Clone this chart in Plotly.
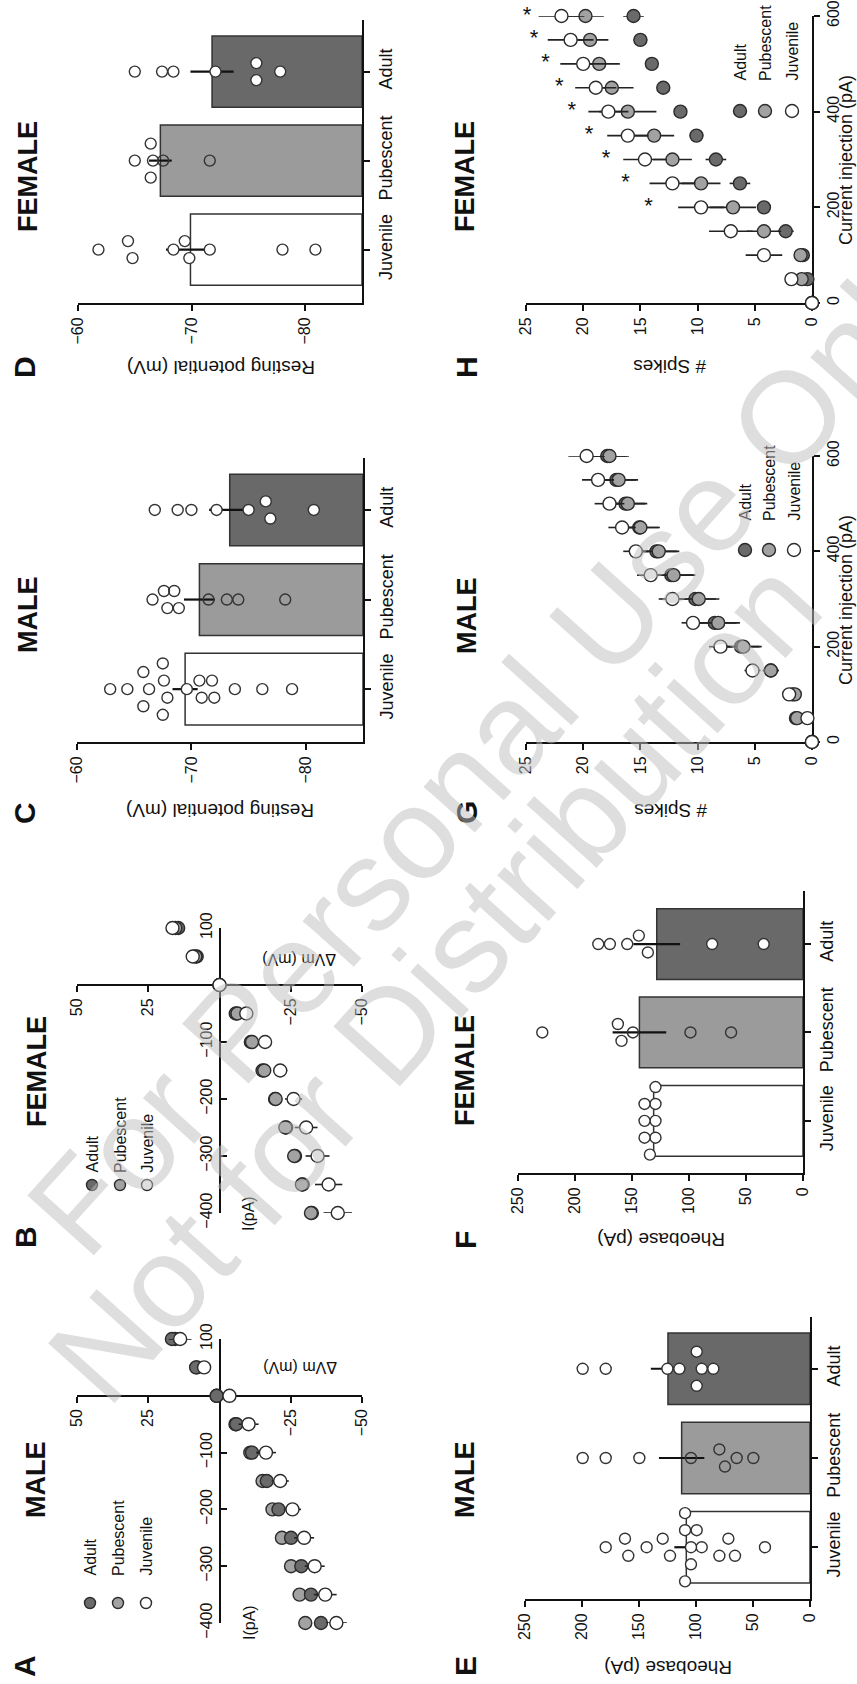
import numpy as np
import plotly.graph_objects as go

W, H = 857, 1684
FONT = "Liberation Sans, Arial, Helvetica, sans-serif"

GROUPS = ["Juvenile", "Pubescent", "Adult"]

# ---------------- IV curves (A male, B female) ----------------
IV_CURRENT = [-400, -350, -300, -250, -200, -150, -100, -50, 0, 50, 100]
A_ADULT = [-35.6, -32.1, -28.7, -25.1, -20.7, -16.6, -11.4, -5.9, 1.0, 8.2, 16.7]
A_PUB = [-30.1, -28.1, -25.1, -21.9, -18.6, -15.1, -10.8, -5.6, 1.0, 8.0, 15.6]
A_JUV = [-41.0, -37.1, -33.4, -29.7, -25.6, -21.3, -16.3, -10.2, -3.5, 5.4, 13.8]
A_ADULT_SEM = [1.5, 1.5, 1.5, 1.4, 1.3, 1.2, 1.0, 0.8, 0.3, 0.8, 1.2]
A_PUB_SEM = [1.5, 1.5, 1.4, 1.3, 1.2, 1.1, 1.0, 0.8, 0.3, 0.8, 1.2]
A_JUV_SEM = [3.7, 4.0, 3.5, 3.5, 3.0, 3.0, 3.5, 3.5, 0.5, 1.0, 4.0]

B_ADULT = [-32.4, -29.2, -26.5, -23.4, -19.5, -15.1, -11.0, -5.7, 0.0, 8.0, 14.5]
B_PUB = [-32.1, -28.9, -26.2, -23.1, -19.7, -15.7, -11.4, -6.3, 0.0, 8.5, 15.5]
B_JUV = [-41.5, -38.3, -34.4, -30.4, -26.0, -21.3, -16.0, -9.4, 0.0, 9.4, 16.5]
B_ADULT_SEM = [1.2, 1.2, 1.1, 1.0, 1.0, 0.9, 0.8, 0.6, 0.0, 0.5, 0.5]
B_PUB_SEM = [1.5, 1.4, 1.3, 1.2, 1.1, 1.0, 0.9, 0.7, 0.0, 0.5, 0.5]
B_JUV_SEM = [5.0, 4.8, 4.2, 4.0, 3.0, 2.5, 1.5, 0.8, 0.0, 0.5, 0.5]

# ---------------- Resting potential (C male, D female) ----------------
C_JUV = [-62.9, -64.4, -65.8, -65.8, -66.3, -67.5, -67.5, -67.6, -67.9, -69.6,
         -70.7, -70.9, -71.8, -72.0, -73.8, -76.2, -78.8]
C_PUB = [-66.6, -67.6, -67.9, -68.5, -68.9, -71.5, -73.1, -74.1, -78.2]
C_ADU = [-66.8, -68.8, -70.0, -72.2, -75.0, -76.5, -76.9, -80.7]
C_MEAN = [-69.45, -70.7, -73.35]
C_SEM = [1.1, 1.35, 1.8]

D_JUV = [-61.8, -64.4, -64.8, -68.4, -69.4, -69.8, -71.6, -78.0, -80.9]
D_PUB = [-65.0, -66.4, -66.4, -66.6, -67.5, -71.6]
D_ADU = [-65.0, -67.4, -68.4, -72.1, -75.7, -75.7, -77.8]
D_MEAN = [-69.9, -67.25, -71.8]
D_SEM = [2.15, 1.0, 1.9]

# ---------------- Rheobase (E male, F female) ----------------
E_JUV = [39.5, 65.8, 71.6, 79.5, 95.0, 99.4, 104.4, 104.4, 109.6, 109.6, 109.6,
         122.8, 129.2, 143.3, 159.4, 162.3, 179.2]
E_PUB = [49.7, 64.3, 74.6, 79.5, 104.4, 149.7, 179.2, 199.4]
E_ADU = [84.8, 95.0, 99.4, 99.4, 114.6, 125.1, 179.2, 199.4]
E_MEAN = [108.5, 112.6, 124.6]
E_SEM = [10.5, 19.9, 15.0]

F_JUV = [129.4, 129.4, 129.4, 129.4, 134.3, 139.0, 139.0, 139.0]
F_PUB = [63.1, 98.7, 149.2, 159.2, 162.4, 228.7]
F_ADU = [34.5, 79.7, 136.1, 144.0, 154.2, 169.4, 179.6]
F_MEAN = [131.0, 143.5, 128.3]
F_SEM = [2.0, 23.5, 20.5]

# ---------------- Spikes vs current (G male, H female) ----------------
STEP_CURRENT = [0, 50, 100, 150, 200, 250, 300, 350, 400, 450, 500, 550, 600]
G_ADULT = [0, 1.4, 1.7, 3.6, 6.2, 8.5, 10.2, 12.3, 13.6, 15.1, 16.3, 17.1, 17.9]
G_PUB = [0, 1.3, 1.5, 3.6, 6.0, 8.2, 9.9, 12.1, 13.4, 15.0, 16.1, 16.9, 17.7]
G_JUV = [0, 0.4, 2.0, 5.2, 8.0, 10.4, 12.2, 14.1, 15.4, 16.6, 17.7, 18.7, 19.7]
G_ADULT_SEM = [0, 0.3, 0.6, 0.7, 1.6, 1.9, 1.8, 1.9, 1.8, 1.7, 1.7, 1.7, 1.7]
G_PUB_SEM = [0, 0.3, 0.6, 0.7, 1.6, 1.9, 1.8, 1.9, 1.8, 1.7, 1.7, 1.7, 1.7]
G_JUV_SEM = [0, 0.3, 0.6, 0.7, 1.0, 1.0, 1.2, 1.2, 1.1, 1.2, 1.3, 1.4, 1.6]

H_ADULT = [0, 0.4, 0.8, 2.3, 4.2, 6.3, 8.4, 10.1, 11.5, 13.0, 14.0, 15.0, 15.6]
H_PUB = [0, 0.9, 1.0, 4.2, 6.9, 9.7, 12.2, 13.8, 16.1, 17.5, 18.6, 19.4, 19.8]
H_JUV = [0, 1.8, 4.2, 7.1, 9.7, 12.2, 14.6, 16.1, 17.8, 18.9, 20.0, 21.1, 21.9]
H_ADULT_SEM = [0, 0.2, 0.3, 0.7, 0.6, 0.9, 0.9, 0.6, 0.5, 0.5, 0.5, 0.6, 0.9]
H_PUB_SEM = [0, 0.3, 0.4, 1.5, 2.0, 1.7, 1.7, 1.75, 2.5, 1.9, 1.8, 1.6, 1.6]
H_JUV_SEM = [0, 0.5, 1.6, 1.9, 2.0, 2.0, 1.9, 1.8, 1.75, 1.8, 2.0, 2.0, 2.0]
H_STAR_CURRENT = [200, 250, 300, 350, 400, 450, 500, 550, 600]
H_STAR_POS = [14.3, 16.3, 18.0, 19.5, 21.0, 22.1, 23.3, 24.3, 24.9]

# ---------------- styles ----------------
COL_ADU = "#6a6a6a"
COL_PUB = "#a2a2a2"
COL_JUV = "#ffffff"
EDGE = "#2b2b2b"
BAR_COLORS = ["#ffffff", "#9b9b9b", "#696969"]


def fx(px):
    return px / W


def fy(py):
    return 1 - py / H


fig = go.Figure()
layout = dict(
    width=W, height=H, margin=dict(l=0, r=0, t=0, b=0),
    paper_bgcolor="white", plot_bgcolor="rgba(0,0,0,0)",
    showlegend=False, template="none",
    font=dict(family=FONT, color="#111"),
    annotations=[], shapes=[],
)

AX_COMMON = dict(showgrid=False, zeroline=False, showline=True, linecolor="#111",
                 linewidth=2, ticks="outside", ticklen=6, tickwidth=2, tickcolor="#111",
                 tickangle=-90, automargin=False, fixedrange=True, layer="below traces")


def ax_name(kind, n):
    return kind + ("axis" if n == 1 else "axis%d" % n)


def ref(kind, n):
    return kind if n == 1 else "%s%d" % (kind, n)


def add_ann(text, px, py, size, angle=-90, bold=False, xanchor="center",
            yanchor="middle", color="#111"):
    if bold:
        text = "<b>%s</b>" % text
    layout["annotations"].append(dict(
        text=text, x=fx(px), y=fy(py), xref="paper", yref="paper",
        showarrow=False, textangle=angle, xanchor=xanchor, yanchor=yanchor,
        font=dict(family=FONT, size=size, color=color)))


def swarm(vals, px_per_unit, cat_px=89.0, step=17.0, diam=10.0):
    v = np.asarray(vals, float) * px_per_unit
    order = list(np.argsort(v, kind="stable"))
    placed = []
    off = np.zeros(len(v))
    ks = [0, 1, -1, 2, -2, 3, -3, 4, -4, 5, -5]
    for i in order:
        o = 0.0
        for k in ks:
            o = k * step
            if all((v[i] - pv) ** 2 + (o - po) ** 2 >= diam ** 2 - 1e-9 for pv, po in placed):
                break
        placed.append((v[i], o))
        off[i] = o
    clusters, cur = [], [order[0]]
    for a, b in zip(order[:-1], order[1:]):
        if abs(v[b] - v[a]) < diam:
            cur.append(b)
        else:
            clusters.append(cur)
            cur = [b]
    clusters.append(cur)
    for c in clusters:
        off[c] -= (off[c].max() + off[c].min()) / 2
    return off / cat_px


def bar_panel(n, xpx, ypx, xr, yr, base, tickvals, groups_pts, means, sems, px_per_unit):
    layout[ax_name("x", n)] = dict(AX_COMMON, domain=[fx(xpx[0]), fx(xpx[1])], range=xr,
                                   anchor=ref("y", n), side="bottom", tickvals=tickvals,
                                   tickfont=dict(size=16, family=FONT, color="#111"))
    layout[ax_name("y", n)] = dict(AX_COMMON, domain=[fy(ypx[1]), fy(ypx[0])], range=yr,
                                   anchor=ref("x", n), side="right", tickvals=[0, 1, 2],
                                   ticktext=GROUPS,
                                   tickfont=dict(size=18, family=FONT, color="#111"))
    fig.add_trace(go.Bar(
        x=[m - base for m in means], y=[0, 1, 2], base=base, orientation="h", width=0.8,
        marker=dict(color=BAR_COLORS, line=dict(color="#333", width=1.5)),
        xaxis=ref("x", n), yaxis=ref("y", n), hoverinfo="skip"))
    fig.add_trace(go.Scatter(
        x=means, y=[0, 1, 2], mode="markers", marker=dict(size=1, color="rgba(0,0,0,0)"),
        error_x=dict(type="data", array=sems, color="#111", thickness=2.2, width=0),
        xaxis=ref("x", n), yaxis=ref("y", n), hoverinfo="skip", cliponaxis=False))
    fills = [COL_JUV, "rgba(0,0,0,0)", "#ffffff"]
    for gi, pts in enumerate(groups_pts):
        offs = swarm(pts, px_per_unit)
        fig.add_trace(go.Scatter(
            x=pts, y=[gi + o for o in offs], mode="markers",
            marker=dict(size=11, color=fills[gi], line=dict(color="#333", width=1.4)),
            xaxis=ref("x", n), yaxis=ref("y", n), hoverinfo="skip", cliponaxis=False))


def xy_series(n, xs, ys, sem, fill, size=13):
    fig.add_trace(go.Scatter(
        x=xs, y=ys, mode="markers",
        marker=dict(size=size, color=fill, line=dict(color=EDGE, width=1.4)),
        error_x=dict(type="data", array=sem, color="#222", thickness=1.6, width=0),
        xaxis=ref("x", n), yaxis=ref("y", n), hoverinfo="skip", cliponaxis=False))


def iv_panel(n, xpx, ypx, series):
    xr, yr = [50, -50], [-400, 100]
    xd = [fx(xpx[0]), fx(xpx[1])]
    yd = [fy(ypx[1]), fy(ypx[0])]
    ypos = yd[0] + (0 - yr[0]) / (yr[1] - yr[0]) * (yd[1] - yd[0])
    xpos = xd[0] + (0 - xr[0]) / (xr[1] - xr[0]) * (xd[1] - xd[0])
    layout[ax_name("x", n)] = dict(AX_COMMON, domain=xd, range=xr, anchor="free",
                                   position=ypos, side="bottom", tickvals=[50, 25, -25, -50],
                                   tickfont=dict(size=16, family=FONT, color="#111"))
    layout[ax_name("y", n)] = dict(AX_COMMON, domain=yd, range=yr, anchor="free",
                                   position=xpos, side="left", ticks="inside",
                                   tickvals=[-400, -300, -200, -100, 100],
                                   tickfont=dict(size=16, family=FONT, color="#111"))
    for xs, sem, fill in series:
        xy_series(n, xs, IV_CURRENT, sem, fill)


def spike_panel(n, xpx, ypx, series):
    layout[ax_name("x", n)] = dict(AX_COMMON, domain=[fx(xpx[0]), fx(xpx[1])], range=[25, 0],
                                   anchor=ref("y", n), side="bottom",
                                   tickvals=[0, 5, 10, 15, 20, 25],
                                   tickfont=dict(size=16, family=FONT, color="#111"))
    layout[ax_name("y", n)] = dict(AX_COMMON, domain=[fy(ypx[1]), fy(ypx[0])], range=[0, 600],
                                   anchor=ref("x", n), side="right",
                                   tickvals=[0, 200, 400, 600],
                                   tickfont=dict(size=16, family=FONT, color="#111"))
    for xs, sem, fill in series:
        xy_series(n, xs, STEP_CURRENT, sem, fill)


def legend(xs_px, y_px, text_bottom_px, r, size):
    for px, fill, lab in zip(xs_px, [COL_ADU, COL_PUB, COL_JUV], ["Adult", "Pubescent", "Juvenile"]):
        layout["shapes"].append(dict(
            type="circle", xref="paper", yref="paper", xsizemode="pixel", ysizemode="pixel",
            xanchor=fx(px), yanchor=fy(y_px), x0=-r, x1=r, y0=-r, y1=r,
            fillcolor=fill, line=dict(color=EDGE, width=1.4)))
        add_ann(lab, px, text_bottom_px, size, angle=-90, yanchor="bottom")


# ---------------- panels ----------------
iv_panel(1, (77, 362), (1339, 1623),
         [(A_PUB, A_PUB_SEM, COL_PUB), (A_ADULT, A_ADULT_SEM, COL_ADU), (A_JUV, A_JUV_SEM, COL_JUV)])
iv_panel(2, (77, 362), (928, 1213),
         [(B_ADULT, B_ADULT_SEM, COL_ADU), (B_PUB, B_PUB_SEM, COL_PUB), (B_JUV, B_JUV_SEM, COL_JUV)])
bar_panel(3, (77, 363), (458, 742), [-60, -85], [-0.59, 2.58], -85, [-60, -70, -80],
          [C_JUV, C_PUB, C_ADU], C_MEAN, C_SEM, 11.36)
bar_panel(4, (78, 362), (20, 303), [-60, -85], [-0.6, 2.58], -85, [-60, -70, -80],
          [D_JUV, D_PUB, D_ADU], D_MEAN, D_SEM, 11.36)
bar_panel(5, (525, 810), (1317, 1599), [250, 0], [-0.58, 2.58], 0, [0, 50, 100, 150, 200, 250],
          [E_JUV, E_PUB, E_ADU], E_MEAN, E_SEM, 1.14)
bar_panel(6, (518, 803), (891, 1173), [250, 0], [-0.59, 2.6], 0, [0, 50, 100, 150, 200, 250],
          [F_JUV, F_PUB, F_ADU], F_MEAN, F_SEM, 1.14)
spike_panel(7, (526, 812), (456, 742),
            [(G_ADULT, G_ADULT_SEM, COL_ADU), (G_PUB, G_PUB_SEM, COL_PUB), (G_JUV, G_JUV_SEM, COL_JUV)])
spike_panel(8, (526, 812), (16, 303),
            [(H_ADULT, H_ADULT_SEM, COL_ADU), (H_PUB, H_PUB_SEM, COL_PUB), (H_JUV, H_JUV_SEM, COL_JUV)])
fig.add_trace(go.Scatter(
    x=H_STAR_POS, y=H_STAR_CURRENT, mode="text", text=["*"] * len(H_STAR_POS),
    textfont=dict(size=22, family=FONT, color="#111"), textposition="middle center",
    xaxis="x8", yaxis="y8", hoverinfo="skip", cliponaxis=False))

# ---------------- titles, letters, axis titles ----------------
for text, px, py in [("FEMALE", 28, 177), ("MALE", 28, 615), ("FEMALE", 37, 1072),
                     ("MALE", 36, 1480), ("FEMALE", 465, 177), ("MALE", 467, 616),
                     ("FEMALE", 465, 1071), ("MALE", 465, 1480)]:
    add_ann(text, px, py, 27, bold=True)
for text, px, py in [("D", 24, 367), ("C", 24, 813), ("B", 25, 1237), ("A", 24, 1666),
                     ("H", 466, 367), ("G", 466, 813), ("F", 465, 1240), ("E", 465, 1666)]:
    add_ann(text, px, py, 30, bold=True)

add_ann("Resting potential (mV)", 221, 368, 19, angle=180)
add_ann("Resting potential (mV)", 220, 810, 19, angle=180)
add_ann("ΔVm (mV)", 299, 960, 16, angle=180)
add_ann("ΔVm (mV)", 300, 1368, 16, angle=180)
add_ann("I(pA)", 248, 1213, 16)
add_ann("I(pA)", 249, 1623, 16)
add_ann("# Spikes", 670, 367, 19, angle=180)
add_ann("# Spikes", 671, 810, 19, angle=180)
add_ann("Current injection (pA)", 846, 160, 18)
add_ann("Current injection (pA)", 846, 600, 18)
add_ann("Rheobase (pA)", 661, 1240, 19, angle=180)
add_ann("Rheobase (pA)", 668, 1668, 19, angle=180)

# legends
legend([92, 120, 147], 1185, 1175, 5.5, 16)
legend([90, 118, 146], 1603, 1578, 5.5, 16)
legend([740, 765, 792], 111, 83, 6.5, 16)
legend([745, 769, 794], 550, 523, 6.5, 16)

# watermark
add_ann("For Personal Use Only", 493, 745, 130, angle=-48, color="rgba(190,190,190,0.5)")
add_ann("Not for Distribution", 434, 981, 130, angle=-48, color="rgba(190,190,190,0.5)")

fig.update_layout(**layout)
fig.write_html("out.html", config=dict(displayModeBar=False, staticPlot=True),
               post_script="document.body.style.margin='0px';")
